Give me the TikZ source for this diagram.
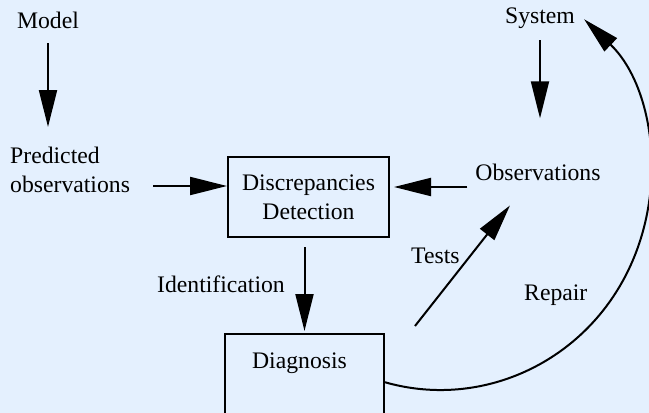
\documentclass[tikz,border=0pt]{standalone}
\usepackage{fontspec}
\setmainfont{Liberation Serif}
\usetikzlibrary{arrows.meta}
\definecolor{bg}{HTML}{E4F0FE}
\begin{document}
\begin{tikzpicture}[x=1pt,y=-1pt,
  every node/.style={font=\fontsize{23.7}{29}\selectfont, inner sep=0pt},
  arr/.style={line width=2pt, -{Triangle[length=37pt,width=18pt]}},
  boxnode/.style={draw, line width=2pt}]
\path[fill=bg, use as bounding box] (0,0) rectangle (649,413);
\clip (0,0) rectangle (649,413);
\node[anchor=base] (model) at (48,28) {Model};
\node[anchor=base] (sys) at (540,23) {System};
\node[anchor=north west, align=left] (pred) at (10,147) {Predicted\\observations};
\node[boxnode, minimum width=161pt, minimum height=80pt, align=center] (disc) at (308.5,197) {Discrepancies\\Detection};
\node[anchor=base] (obs) at (538,180) {Observations};
\node[anchor=base east] (ident) at (285,292) {Identification};
\node[anchor=base west] (tests) at (411,263) {Tests};
\node[anchor=base west] (repair) at (524,300) {Repair};
\node[boxnode, anchor=base, minimum width=159pt, text height=34pt, text depth=45.5pt] (diag) at (304.5,368) {Diagnosis\kern10pt};
\coordinate (d1) at ([yshift=11pt]disc.west);
\coordinate (d2) at ([yshift=10pt]disc.east);
\draw[arr, shorten <=15pt, shorten >=20pt] (model.south) -- (model.south |- pred.north);
\draw[arr, shorten <=23pt] (pred.east |- d1) -- (d1);
\draw[arr, shorten <=8pt, shorten >=4pt] (obs.west |- d2) -- (d2);
\draw[arr, shorten <=12pt, shorten >=45pt] (sys.south) -- (sys.south |- obs.north);
\draw[arr, shorten <=9pt, shorten >=2pt] (diag.north |- disc.south) -- (diag.north);
\draw[arr] ([xshift=30pt,yshift=7pt]diag.north east) -- ([xshift=-28pt,yshift=-25pt]obs.south);
\draw[arr] ([yshift=-8.5pt]diag.east) .. controls (476.8,408.5) and (575.3,366.8) .. (622.8,280.9) .. controls (670.3,195) and (654.3,86.6) .. ([xshift=9pt,yshift=-1.5pt]sys.east);
\end{tikzpicture}
\end{document}
